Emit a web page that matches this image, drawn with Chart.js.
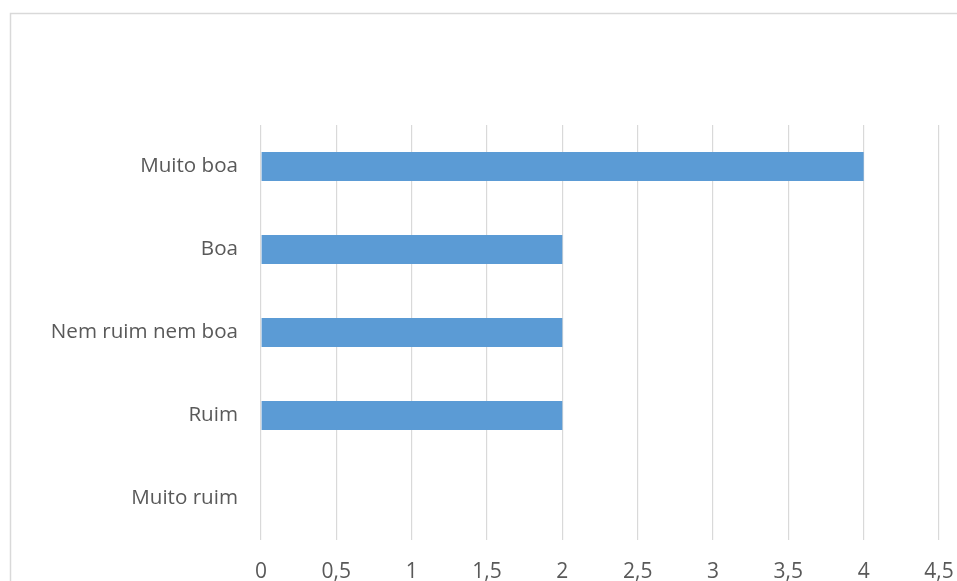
<!DOCTYPE html>
<html>
<head>
<meta charset="utf-8">
<script src="https://cdn.jsdelivr.net/npm/chart.js@4"></script>
<style>
  html, body { margin: 0; padding: 0; background: #fff; }
  #wrap { width: 957px; height: 581px; position: relative; }
</style>
</head>
<body>
<div id="wrap"><canvas id="chart"></canvas></div>
<script>
// Data
var categories = ["Muito boa", "Boa", "Nem ruim nem boa", "Ruim", "Muito ruim"];
var values = [4, 2, 2, 2, 0];
var xMin = 0, xMax = 4.5, xStep = 0.5;

// Outer frame like the spreadsheet chart box
var framePlugin = {
    id: 'frame',
    beforeDraw: function (chart) {
        var c = chart.ctx;
        c.save();
        c.strokeStyle = "#d9d9d9";
        c.lineWidth = 1.5;
        c.strokeRect(10.5, 13.5, 1000, 700);
        c.restore();
    }
};

Chart.defaults.font.family = "'Open Sans', sans-serif";
Chart.defaults.color = "#595959";

var ctx = document.getElementById("chart").getContext("2d");
var myChart = new Chart(ctx, {
    type: "bar",
    data: {
        labels: categories,
        datasets: [{
            data: values,
            backgroundColor: "#5b9bd5",
            borderWidth: 0,
            barPercentage: 0.35,
            categoryPercentage: 1
        }]
    },
    options: {
        indexAxis: 'y',
        responsive: true,
        maintainAspectRatio: false,
        animation: false,
        layout: { padding: { top: 125, right: 0, left: 0, bottom: 0 } },
        plugins: {
            legend: { display: false },
            tooltip: { enabled: false }
        },
        scales: {
            x: {
                min: xMin,
                max: xMax,
                ticks: {
                    stepSize: xStep,
                    font: { size: 21 },
                    padding: 19,
                    callback: function (v) { return String(v).replace('.', ','); }
                },
                grid: { color: "#d9d9d9", lineWidth: 1.2, drawTicks: false },
                border: { display: false },
                afterFit: function (s) {
                    s.height = 41;
                    s.paddingRight = 18;
                    s.paddingLeft = 0;
                }
            },
            y: {
                ticks: { font: { size: 20.6 }, padding: 23 },
                grid: { display: false, drawTicks: false },
                border: { display: false },
                afterFit: function (s) { s.width = 261; }
            }
        }
    },
    plugins: [framePlugin]
});
</script>
</body>
</html>
